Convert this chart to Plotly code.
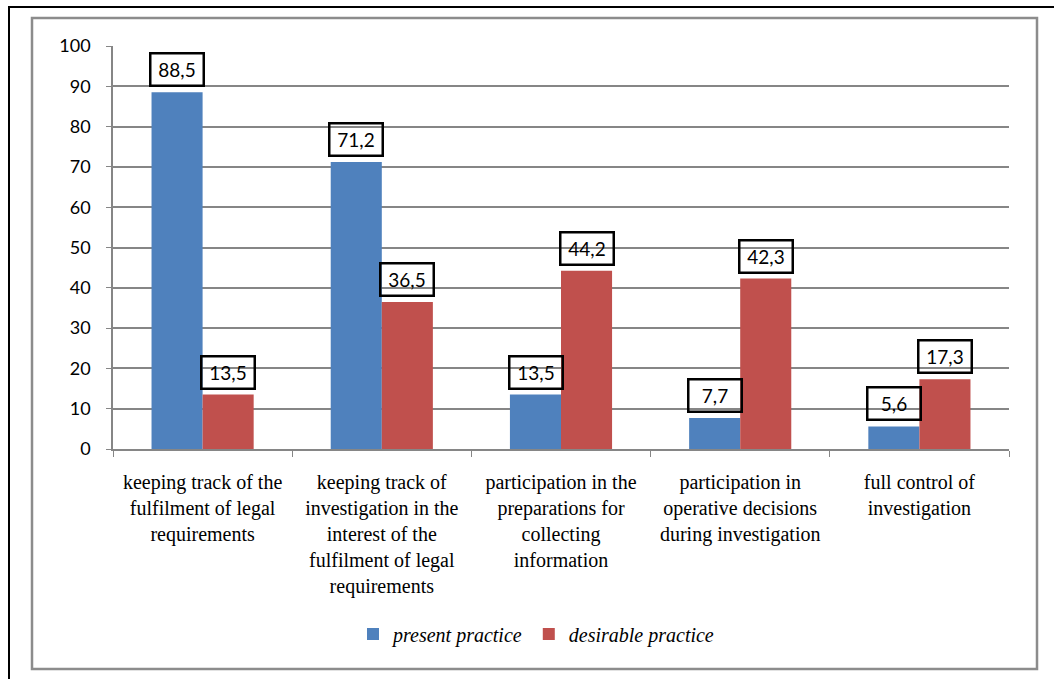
import plotly.graph_objects as go

categories = [
    "keeping track of the<br>fulfilment of legal<br>requirements",
    "keeping track of<br>investigation in the<br>interest of the<br>fulfilment of legal<br>requirements",
    "participation in the<br>preparations for<br>collecting<br>information",
    "participation in<br>operative decisions<br>during investigation",
    "full control of<br>investigation",
]
present = [88.5, 71.2, 13.5, 7.7, 5.6]
desirable = [13.5, 36.5, 44.2, 42.3, 17.3]
series_names = ["present practice", "desirable practice"]
colors = ["#4F81BD", "#C0504D"]
y_ticks = [0, 10, 20, 30, 40, 50, 60, 70, 80, 90, 100]

W, H = 1054, 679
L, R, T, B = 113, 1009, 46, 449

def px_x(p):
    return (p - L) / (R - L)

def px_y(p):
    return (B - p) / (B - T)

fig = go.Figure()
for name, vals, col in zip(series_names, [present, desirable], colors):
    fig.add_trace(go.Bar(x=categories, y=vals, name=name, marker_color=col,
                         marker_line_width=0))

def fmt(v):
    return f"{v:.1f}".replace(".", ",")

annotations = []
for vals, shift in [(present, -25.5), (desirable, 25.5)]:
    for c, v in zip(categories, vals):
        annotations.append(dict(
            x=c, y=v, xref="x", yref="y", text=fmt(v), showarrow=False,
            xshift=shift, yshift=5, yanchor="bottom",
            font=dict(family="Lato, Liberation Sans, sans-serif", size=19, color="black"),
            bordercolor="black", borderwidth=2.5, borderpad=1,
            width=49, height=28, bgcolor="rgba(0,0,0,0)",
        ))

shapes = [
    # outer black border
    dict(type="rect", xref="paper", yref="paper",
         x0=px_x(9), x1=px_x(1070), y0=px_y(700), y1=px_y(7),
         line=dict(color="black", width=2), fillcolor="rgba(0,0,0,0)", layer="below"),
    # inner gray frame
    dict(type="rect", xref="paper", yref="paper",
         x0=px_x(32), x1=px_x(1037), y0=px_y(669), y1=px_y(18),
         line=dict(color="#8C8C8C", width=2.5), fillcolor="rgba(0,0,0,0)", layer="below"),
]

fig.update_layout(
    width=W, height=H,
    margin=dict(l=L, r=W - R, t=T, b=H - B),
    paper_bgcolor="white", plot_bgcolor="white",
    barmode="group", bargap=0.43, bargroupgap=0,
    showlegend=True,
    legend=dict(orientation="h", x=px_x(536), xanchor="center", y=px_y(634), yanchor="middle",
                font=dict(family="Liberation Serif, serif", size=20, color="black", style="italic"),
                itemwidth=30, traceorder="normal"),
    annotations=annotations,
    shapes=shapes,
    xaxis=dict(showline=True, linecolor="#868686", linewidth=1.5, ticks="outside",
               ticklen=6, tickcolor="#868686", tickson="boundaries",
               tickfont=dict(family="Liberation Serif, serif", size=20, color="black"),
               ticklabelstandoff=14, showgrid=False),
    yaxis=dict(range=[0, 100], tickvals=y_ticks, showline=True, linecolor="#868686",
               linewidth=1.5, ticks="outside", ticklen=5, tickcolor="#868686",
               showgrid=True, gridcolor="#868686", gridwidth=1.5,
               tickfont=dict(family="Lato, Liberation Sans, sans-serif", size=18, color="black"),
               ticklabelstandoff=12, zeroline=False),
)

fig.write_html("out.html")
